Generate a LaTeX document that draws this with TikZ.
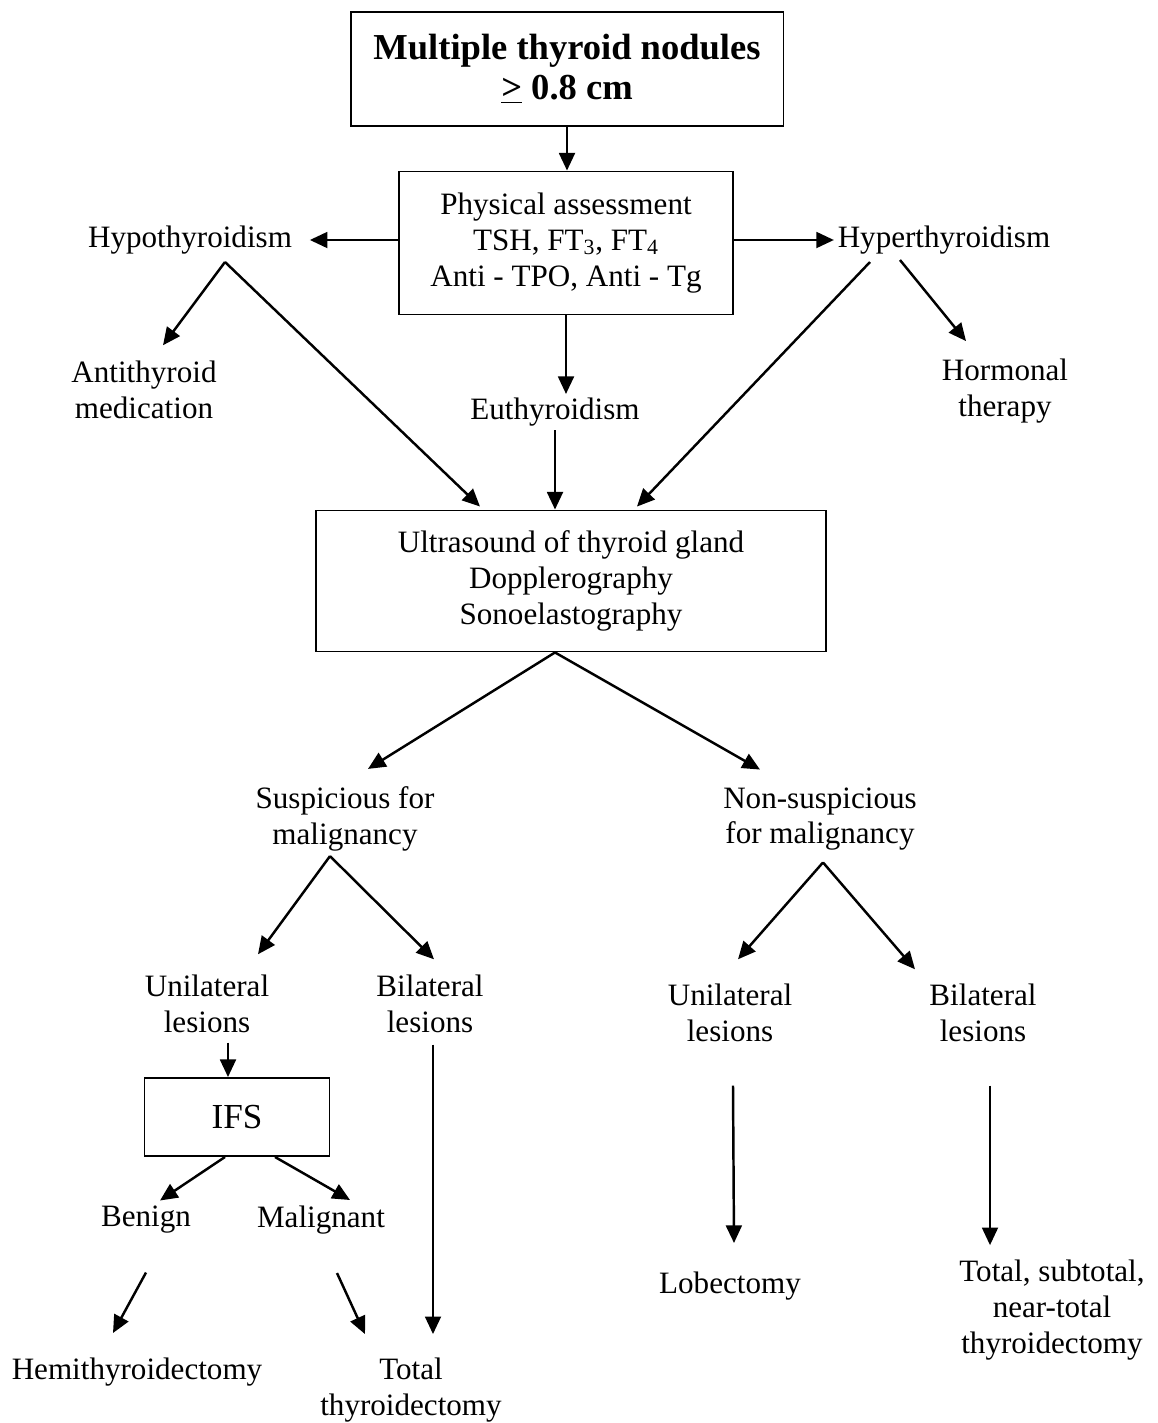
\documentclass[tikz,border=0pt]{standalone}
\usepackage{fontspec}
\setmainfont{Liberation Serif}
\usepackage{tikz}
\usetikzlibrary{arrows.meta,calc}
\newcommand{\txtfont}{\fontsize{17.7}{20.4}\selectfont}
\newcommand{\headfont}{\fontsize{20.8}{22.7}\selectfont\bfseries}

\begin{document}
\begin{tikzpicture}[x=0.02cm,y=-0.02cm,
  box/.style={draw,line width=1.1pt,align=center,font=\txtfont},
  txt/.style={align=center,font=\txtfont,inner sep=2pt},
  arr/.style={line width=1.4pt,-{Triangle[length=10pt,width=9pt]}}]
\useasboundingbox (0,0) rectangle (1158,1423);

\node[box,font=\headfont,minimum width=8.66cm,minimum height=2.28cm] (top) at (567,69) {Multiple thyroid nodules\\\underline{>} 0.8 cm};
\node[box,minimum width=6.68cm,minimum height=2.86cm] (phys) at (566,243) {Physical assessment\\TSH, FT\textsubscript{3}, FT\textsubscript{4}\\Anti - TPO, Anti - Tg};
\node[txt] (hypo) at (190,240) {Hypothyroidism};
\node[txt] (hyper) at (944,240) {Hyperthyroidism};
\node[txt] (medic) at (144,390) {Antithyroid\\medication};
\node[txt] (horm) at (1005,391) {Hormonal\\therapy};
\node[txt] (eu) at (555,412) {Euthyroidism};
\node[box,minimum width=10.2cm,minimum height=2.82cm] (us) at (571,581) {Ultrasound of thyroid gland\\Dopplerography\\Sonoelastography};
\node[txt] (susp) at (345,819) {Suspicious for\\malignancy};
\node[txt] (nonsusp) at (820,819) {Non-suspicious\\for malignancy};
\node[txt] (unil) at (207,1004) {Unilateral\\lesions};
\node[txt] (bil) at (430,1004) {Bilateral\\lesions};
\node[txt] (unir) at (730,1013) {Unilateral\\lesions};
\node[txt] (bir) at (983,1013) {Bilateral\\lesions};
\node[box,font=\fontsize{20}{22}\selectfont,minimum width=3.7cm,minimum height=1.56cm] (ifs) at (237,1117) {IFS};
\node[txt] (benign) at (146,1220) {Benign};
\node[txt] (malig) at (321,1220) {Malignant};
\node[txt] (hemi) at (137,1372) {Hemithyroidectomy};
\node[txt] (total) at (411,1390) {Total\\thyroidectomy};
\node[txt] (lobe) at (730,1286) {Lobectomy};
\node[txt] (tsub) at (1052,1310) {Total, subtotal,\\near-total\\thyroidectomy};

\draw[arr] (top.south) -- (top.south |- phys.north);
\draw[arr,shorten >=8pt] (hypo -| phys.west) -- (hypo.east);
\draw[arr] (hyper -| phys.east) -- (hyper.west);
\draw[arr] ($(hypo.south)+(35,4)$) -- ($(medic.north)+(19,-12)$);
\draw[arr] ($(hypo.south)+(35,4)$) -- ($(us.north)+(-91,-3)$);
\draw[arr] (phys.south) -- (phys.south |- eu.north);
\draw[arr] (eu.south) -- (eu.south |- us.north);
\draw[arr] ($(hyper.south)+(-44,2)$) -- ($(horm.north)+(-39,-14)$);
\draw[arr] ($(hyper.south)+(-74,4)$) -- ($(us.north)+(66,-3)$);
\draw[arr] ($(us.south)+(-16,0)$) -- ($(susp.north)+(23,-14)$);
\draw[arr] ($(us.south)+(-16,0)$) -- ($(nonsusp.north)+(-60,-14)$);
\draw[arr] ($(susp.south)+(-15,1)$) -- ($(unil.north)+(51,-17)$);
\draw[arr] ($(susp.south)+(-15,1)$) -- ($(bil.north)+(4,-12)$);
\draw[arr] ($(nonsusp.south)+(3,8)$) -- ($(unir.north)+(8,-21)$);
\draw[arr] ($(nonsusp.south)+(3,8)$) -- ($(bir.north)+(-68,-11)$);
\draw[arr] ($(unil.south)+(21,6)$) -- ($(ifs.north)+(-9,0)$);
\draw[arr] ($(ifs.south)+(-12,0)$) -- ($(benign.north)+(14,-2)$);
\draw[arr] ($(ifs.south)+(38,0)$) -- ($(malig.north)+(29,-2)$);
\draw[arr] ($(benign.south)+(0,35)$) -- ($(hemi.north)+(-24,-21)$);
\draw[arr] ($(malig.south)+(16,35)$) -- ($(total.north)+(-46,-20)$);
\draw[arr] ($(bil.south)+(3,8)$) -- ($(total.north)+(22,-20)$);
\draw[arr] ($(unir.south)+(3,40)$) -- ($(lobe.north)+(4,-25)$);
\draw[arr] ($(bir.south)+(7,40)$) -- ($(tsub.north)+(-62,-11)$);
\end{tikzpicture}
\end{document}
